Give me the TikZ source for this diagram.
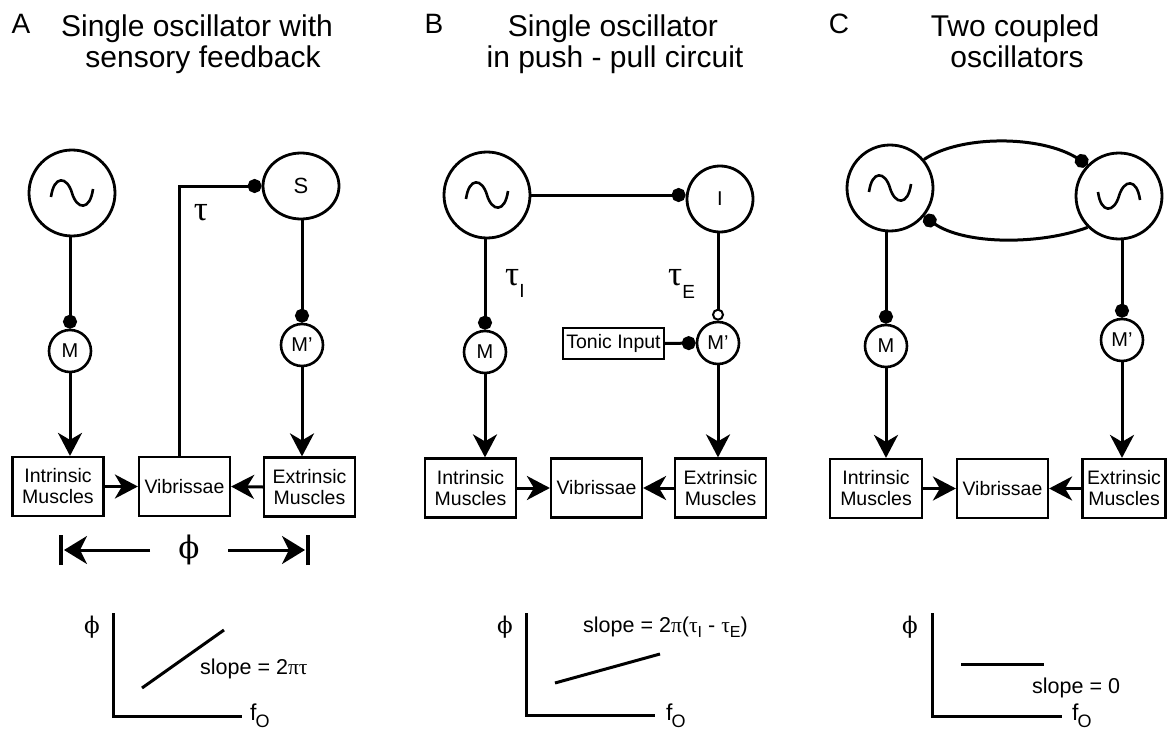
\documentclass[tikz,border=0pt]{standalone}
\usepackage{fontspec}
\setmainfont{Liberation Sans}
\newfontfamily\grk{Liberation Serif}
\newfontfamily\phif{DejaVu Serif}
\usetikzlibrary{arrows.meta,shapes.geometric}
\newcommand\fsz[2]{\fontsize{#1}{#2}\selectfont}
\begin{document}
\begin{tikzpicture}[x=1pt,y=-1pt,
  every node/.style={inner sep=0pt},
  osc/.style={circle,draw,line width=2.8pt,minimum size=86pt},
  mot/.style={circle,draw,line width=2.6pt,minimum size=42pt,font=\fsz{20}{22}},
  sens/.style={ellipse,draw,line width=2.8pt,minimum width=76pt,minimum height=66pt,font=\fsz{22}{24}},
  blk/.style={draw,line width=2.2pt,minimum width=91pt,minimum height=59pt,align=center,font=\fsz{19.5}{21}},
  ttl/.style={anchor=base,font=\fsz{30}{31}},
  lttr/.style={anchor=base,font=\fsz{28}{30}},
  conn/.style={line width=3pt},
  arr/.style={conn,-{Stealth[length=23pt,width=24pt,inset=7pt]}},
  dotend/.style={conn,-{Circle[length=14pt]}},
  openend/.style={conn,-{Circle[fill=white,length=12pt,line width=2pt]}},
  wavestyle/.style={line width=2.6pt},
  axis/.style={line width=3pt},
  plotline/.style={line width=3pt},
  phistyle/.style={font=\phif\fsz{23}{23}},
  fostyle/.style={anchor=base west,font=\fsz{23}{23}},
  slopestyle/.style={anchor=base west,font=\fsz{21.5}{24}},
]
\useasboundingbox (0,0) rectangle (1167,733);

% ---------- titles ----------
\node[lttr] (la) at (21,34) {A};
\node[ttl] (ta1) at (197,37) {Single oscillator with};
\node[ttl] (ta2) at (203,68) {sensory feedback};
\node[lttr] (lb) at (434,34) {B};
\node[ttl] (tb1) at (613,37) {Single oscillator};
\node[ttl] (tb2) at (615,68) {in push - pull circuit};
\node[lttr] (lc) at (839,34) {C};
\node[ttl] (tc1) at (1015,37) {Two coupled};
\node[ttl] (tc2) at (1017,68) {oscillators};

% ---------- panel A ----------
\node[osc] (oscA) at (72,193) {};
\draw[wavestyle,shift={(oscA.center)}] (-21,4) .. controls (-18,-18) and (-5,-17) .. (0,0) .. controls (5,17) and (18,18) .. (21,-4);
\node[sens] (sA) at (301,186) {S};
\node[mot] (mA) at (70,351) {M};
\node[mot] (mpA) at (302,345) {M'};
\node[blk] (intA) at (58,486.5) {Intrinsic\\Muscles};
\node[blk] (vibA) at (184.5,486.5) {Vibrissae};
\node[blk] (extA) at (309.5,487) {Extrinsic\\Muscles};
\node[font=\grk\fsz{35}{35}] (tauA) at (201,213) {τ};

\draw[dotend] (mA |- oscA.south) -- (mA.north);
\draw[dotend] (mpA |- sA.south) -- (mpA.north);
\draw[arr] (mA.south) -- (mA.south |- intA.north);
\draw[arr] (mpA.south) -- (mpA.south |- extA.north);
\draw[arr] (intA.east) -- (vibA.west);
\draw[arr] (extA.west) -- (vibA.east);
\draw[dotend] ([xshift=-5pt]vibA.north) |- (sA.west);

% phase arrows
\node[font=\phif\fsz{31}{31}] (phiA) at (189,550) {ϕ};
\coordinate (barL) at (61,550);
\coordinate (barR) at (308,550);
\draw[line width=3.2pt] ([yshift=-15pt]barL) -- ([yshift=15pt]barL);
\draw[line width=3.2pt] ([yshift=-15pt]barR) -- ([yshift=15pt]barR);
\draw[conn,-{Stealth[length=23pt,width=28pt,inset=7pt]}] (150,550) -- ([xshift=3pt]barL);
\draw[conn,-{Stealth[length=23pt,width=28pt,inset=7pt]}] (228,550) -- ([xshift=-3pt]barR);

% graph A
\draw[axis] (113,613) -- (113,716) -- (242,716);
\draw[plotline] (142,688) -- (224,630);
\node[phistyle] (gphiA) at (92,627) {ϕ};
\node[fostyle] (foA) at (250,720) {f\kern-1pt\raisebox{-7pt}{\fsz{18}{18}O}};
\node[slopestyle] (slA) at (200,674) {slope = 2{\grk πτ}};

% ---------- panel B ----------
\node[osc] (oscB) at (487,195) {};
\draw[wavestyle,shift={(oscB.center)}] (-21,4) .. controls (-18,-18) and (-5,-17) .. (0,0) .. controls (5,17) and (18,18) .. (21,-4);
\node[circle,draw,line width=2.8pt,minimum size=66pt,font=\fsz{20}{22}] (iB) at (720,199) {I};
\node[mot] (mB) at (485,352) {M};
\node[mot] (mpB) at (718,343) {M'};
\node[draw,line width=2.2pt,minimum width=101pt,minimum height=31pt,font=\fsz{19.5}{21}] (tonic) at (613.5,343.5) {Tonic Input};
\node[blk] (intB) at (470.5,488) {Intrinsic\\Muscles};
\node[blk] (vibB) at (596.5,488) {Vibrissae};
\node[blk] (extB) at (720.5,488) {Extrinsic\\Muscles};
\node[anchor=base west] (tauI) at (505,285) {\grk\fsz{35}{35}τ\raisebox{-12pt}{\normalfont\fsz{19}{19}I}};
\node[anchor=base west] (tauE) at (668,285) {\grk\fsz{35}{35}τ\raisebox{-13pt}{\normalfont\fsz{19}{19}E}};

\draw[dotend] (oscB.east) -- (oscB.east -| iB.west);
\draw[dotend] (mB |- oscB.south) -- (mB.north);
\draw[openend] (mpB |- iB.south) -- (mpB.north);
\draw[dotend] (tonic.east) -- (mpB.west);
\draw[arr] (mB.south) -- (mB.south |- intB.north);
\draw[arr] (mpB.south) -- (mpB.south |- extB.north);
\draw[arr] (intB.east) -- (vibB.west);
\draw[arr] (extB.west) -- (vibB.east);

% graph B
\draw[axis] (526,613) -- (526,715) -- (655,715);
\draw[plotline] (555,683) -- (660,654);
\node[phistyle] (gphiB) at (505,627) {ϕ};
\node[fostyle] (foB) at (666,720) {f\kern-1pt\raisebox{-7pt}{\fsz{18}{18}O}};
\node[slopestyle] (slB) at (583,632) {slope = 2{\grk π}({\grk τ}\raisebox{-5pt}{\fsz{16}{16}I} - {\grk τ}\raisebox{-5pt}{\fsz{16}{16}E})};

% ---------- panel C ----------
\node[osc] (oscC1) at (890,188) {};
\draw[wavestyle,shift={(oscC1.center)}] (-21,4) .. controls (-18,-18) and (-5,-17) .. (0,0) .. controls (5,17) and (18,18) .. (21,-4);
\node[osc] (oscC2) at (1119,196) {};
\draw[wavestyle,shift={(oscC2.center)},yscale=-1] (-21,4) .. controls (-18,-18) and (-5,-17) .. (0,0) .. controls (5,17) and (18,18) .. (21,-4);
\node[mot] (mC) at (886,346) {M};
\node[mot] (mpC) at (1122,340) {M'};
\node[blk,minimum width=92pt] (intC) at (876,488.5) {Intrinsic\\Muscles};
\node[blk] (vibC) at (1002.5,488.5) {Vibrissae};
\node[blk,minimum width=83pt] (extC) at (1124,488.5) {Extrinsic\\Muscles};

\draw[dotend] (oscC1.40) .. controls (960,135) and (1040,135) .. (oscC2.135);
\draw[dotend] (oscC2.-135) .. controls (1040,245) and (965,245) .. (oscC1.-40);
\draw[dotend] (mC |- oscC1.south) -- (mC.north);
\draw[dotend] (mpC |- oscC2.south) -- (mpC.north);
\draw[arr] (mC.south) -- (mC.south |- intC.north);
\draw[arr] (mpC.south) -- (mpC.south |- extC.north);
\draw[arr] (intC.east) -- (vibC.west);
\draw[arr] (extC.west) -- (vibC.east);

% graph C
\draw[axis] (932,613) -- (932,716) -- (1062,716);
\draw[plotline] (961,664) -- (1044,664);
\node[phistyle] (gphiC) at (910,627) {ϕ};
\node[fostyle] (foC) at (1072,720) {f\kern-1pt\raisebox{-7pt}{\fsz{18}{18}O}};
\node[slopestyle] (slC) at (1032,693) {slope = 0};
\end{tikzpicture}
\end{document}
